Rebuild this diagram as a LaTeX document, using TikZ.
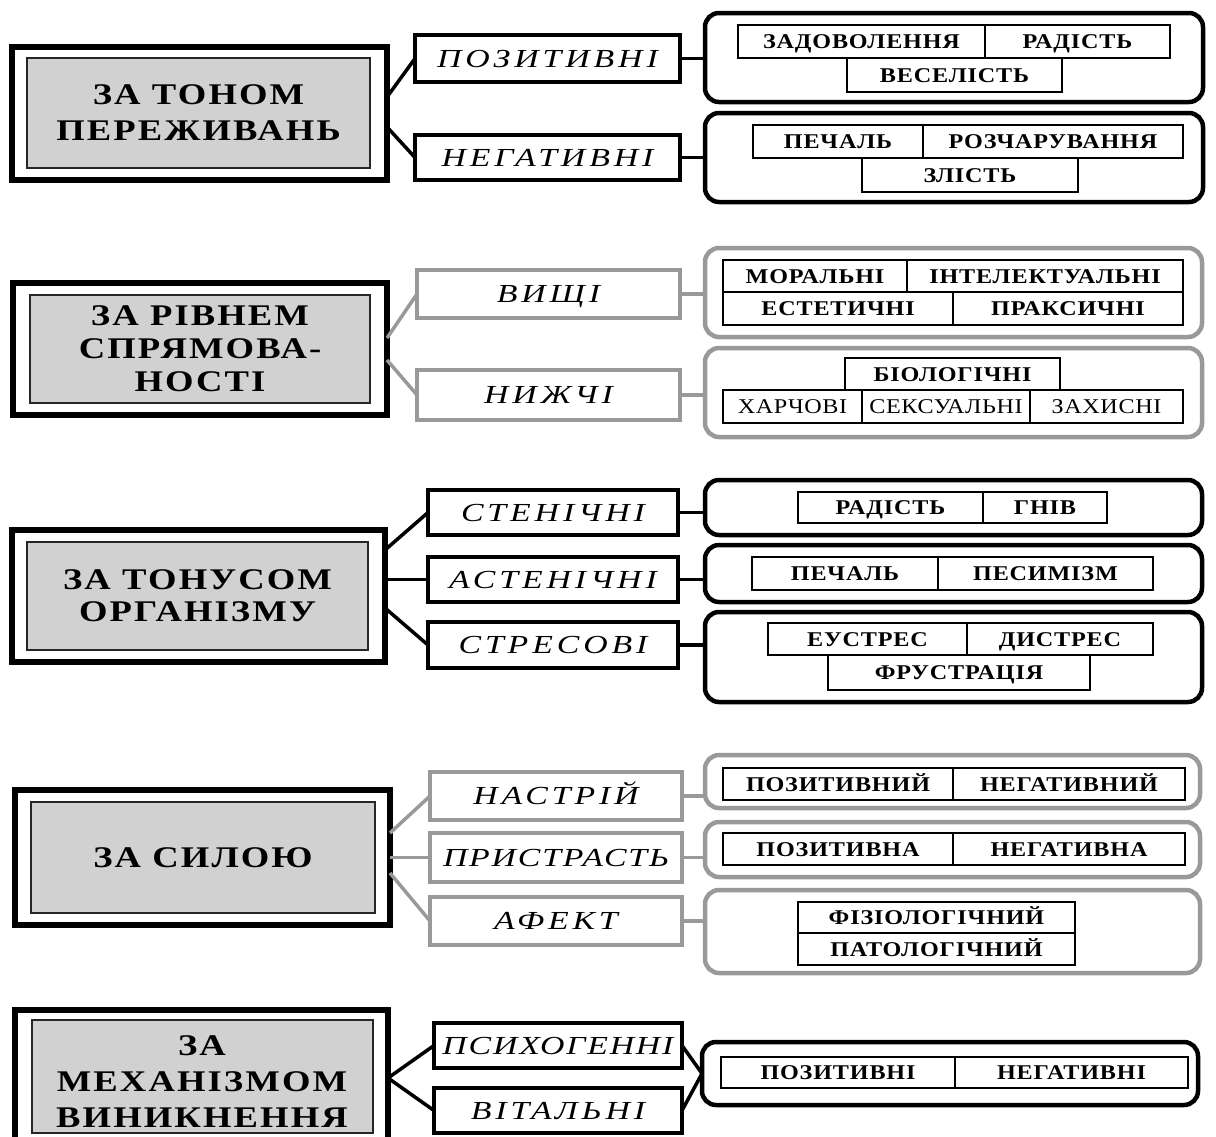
\documentclass[tikz,border=0pt]{standalone}
\usepackage{fontspec}
\setmainfont{Liberation Serif}
\newfontfamily\fmainfam[FakeStretch=1.22,LetterSpace=7]{Liberation Serif}
\newfontfamily\fcatfam[FakeStretch=1.3,LetterSpace=15]{Liberation Serif}
\newfontfamily\fcattightfam[FakeStretch=1.3,LetterSpace=7]{Liberation Serif}
\newfontfamily\fitemfam[FakeStretch=1.15,LetterSpace=4]{Liberation Serif}
\newfontfamily\fitemrfam[FakeStretch=1.15,LetterSpace=3]{Liberation Serif}
\newcommand\fmain{\fmainfam\bfseries\fontsize{30}{36}\selectfont}
\newcommand\fcat{\fcatfam\itshape\fontsize{26}{28}\selectfont}
\newcommand\fcattight{\fcattightfam\itshape\fontsize{26}{28}\selectfont}
\newcommand\fitem{\fitemfam\bfseries\fontsize{21}{24}\selectfont}
\newcommand\fitemr{\fitemrfam\fontsize{21}{24}\selectfont}
\definecolor{lgray}{gray}{0.6}
\definecolor{fgray}{gray}{0.82}
\tikzset{
  outerbox/.style={draw=black, line width=6pt, fill=white, inner sep=0pt, outer sep=0pt},
  innerbox/.style={draw=black!85, line width=1.6pt, fill=fgray, inner sep=0pt, outer sep=0pt, font=\fmain, align=center},
  catbox/.style={draw=black, line width=4pt, fill=white, inner sep=0pt, outer sep=0pt, font=\fcat, text height=17pt, text depth=0pt},
  catgray/.style={catbox, draw=lgray},
  container/.style={draw=black, line width=4.5pt, rounded corners=14pt, inner sep=0pt, outer sep=0pt},
  containergray/.style={container, draw=lgray},
  itembox/.style={draw=black, line width=1.5pt, fill=white, inner sep=0pt, outer sep=0pt, font=\fitem, text height=14pt, text depth=0pt},
  itemreg/.style={itembox, font=\fitemr},
  conn/.style={line width=3.5pt, draw=black},
  conngray/.style={line width=3.5pt, draw=lgray},
}
\newcommand\bx[7]{\node[#1, anchor=north west, minimum width={(#5)-(#3)}, minimum height={(#6)-(#4)}] (#2) at (#3,#4) {#7};}
\begin{document}
\begin{tikzpicture}[x=1pt,y=-1pt]
\useasboundingbox (0,0) rectangle (1216,1136);
% ---------- section 1 ----------
\bx{outerbox}{m1o}{12}{47}{387}{180}{}
\bx{innerbox}{m1i}{27}{58}{370}{168}{ЗА ТОНОМ\\ПЕРЕЖИВАНЬ}
\bx{catbox}{c11}{415}{35}{680}{82}{ПОЗИТИВНІ}
\bx{catbox}{c12}{415}{135}{680}{180}{НЕГАТИВНІ}
\bx{container}{r1}{705}{13}{1203}{102}{}
\bx{container}{r2}{705}{113}{1203}{202}{}
\bx{itembox}{i1}{738}{25}{985}{58}{ЗАДОВОЛЕННЯ}
\bx{itembox}{i2}{985}{25}{1170}{58}{РАДІСТЬ}
\bx{itembox}{i3}{847}{58}{1062}{92}{ВЕСЕЛІСТЬ}
\bx{itembox}{i4}{753}{125}{923}{158}{ПЕЧАЛЬ}
\bx{itembox}{i5}{923}{125}{1183}{158}{РОЗЧАРУВАННЯ}
\bx{itembox}{i6}{862}{158}{1078}{192}{ЗЛІСТЬ}
\draw[conn] ([yshift=16.5pt]m1o.east) -- (c11.west);
\draw[conn] ([yshift=-13.5pt]m1o.east) -- (c12.west);
\draw[conn] (c11.east) -- (c11.east -| r1.west);
\draw[conn] (c12.east) -- (c12.east -| r2.west);
% ---------- section 2 ----------
\bx{outerbox}{m2o}{13}{283}{387}{415}{}
\bx{innerbox}{m2i}{30}{295}{370}{403}{ЗА РІВНЕМ\\[-3pt]СПРЯМОВА-\\[-3pt]НОСТІ}
\bx{catgray}{c21}{417}{270}{680}{318}{ВИЩІ}
\bx{catgray}{c22}{417}{370}{680}{420}{НИЖЧІ}
\bx{containergray}{r3}{705}{248}{1202}{337}{}
\bx{containergray}{r4}{705}{348}{1202}{437}{}
\bx{itembox}{i7}{723}{260}{907}{292}{МОРАЛЬНІ}
\bx{itembox}{i8}{907}{260}{1183}{292}{ІНТЕЛЕКТУАЛЬНІ}
\bx{itembox}{i9}{723}{292}{953}{325}{ЕСТЕТИЧНІ}
\bx{itembox}{i10}{953}{292}{1183}{325}{ПРАКСИЧНІ}
\bx{itembox}{i11}{845}{358}{1060}{390}{БІОЛОГІЧНІ}
\bx{itemreg}{i12}{723}{390}{862}{423}{ХАРЧОВІ}
\bx{itemreg}{i13}{862}{390}{1030}{423}{СЕКСУАЛЬНІ}
\bx{itemreg}{i14}{1030}{390}{1183}{423}{ЗАХИСНІ}
\draw[conngray] ([yshift=11pt]m2o.east) -- (c21.west);
\draw[conngray] ([yshift=-11pt]m2o.east) -- (c22.west);
\draw[conngray] (c21.east) -- (c21.east -| r3.west);
\draw[conngray] (c22.east) -- (c22.east -| r4.west);
% ---------- section 3 ----------
\bx{outerbox}{m3o}{12}{530}{385}{662}{}
\bx{innerbox}{m3i}{27}{542}{368}{650}{ЗА ТОНУСОМ\\[-4pt]ОРГАНІЗМУ}
\bx{catbox}{c31}{428}{490}{678}{535}{СТЕНІЧНІ}
\bx{catbox}{c32}{428}{557}{678}{602}{АСТЕНІЧНІ}
\bx{catbox}{c33}{428}{622}{678}{668}{СТРЕСОВІ}
\bx{container}{r5}{705}{480}{1202}{535}{}
\bx{container}{r6}{705}{545}{1202}{602}{}
\bx{container}{r7}{705}{612}{1202}{702}{}
\bx{itembox}{i15}{798}{492}{983}{523}{РАДІСТЬ}
\bx{itembox}{i16}{983}{492}{1107}{523}{ГНІВ}
\bx{itembox}{i17}{752}{557}{938}{590}{ПЕЧАЛЬ}
\bx{itembox}{i18}{938}{557}{1153}{590}{ПЕСИМІЗМ}
\bx{itembox}{i19}{768}{623}{967}{655}{ЕУСТРЕС}
\bx{itembox}{i20}{967}{623}{1153}{655}{ДИСТРЕС}
\bx{itembox}{i21}{828}{655}{1090}{690}{ФРУСТРАЦІЯ}
\draw[conn] ([yshift=46pt]m3o.east) -- (c31.west);
\draw[conn] (m3o.east |- c32.west) -- (c32.west);
\draw[conn] ([yshift=-12pt]m3o.east) -- (c33.west);
\draw[conn] (c31.east) -- (c31.east -| r5.west);
\draw[conn] (c32.east) -- (c32.east -| r6.west);
\draw[conn] (c33.east) -- (c33.east -| r7.west);
% ---------- section 4 ----------
\bx{outerbox}{m4o}{15}{790}{390}{925}{}
\bx{innerbox}{m4i}{31}{802}{375}{913}{ЗА СИЛОЮ}
\bx{catgray}{c41}{430}{772}{682}{820}{НАСТРІЙ}
\bx{catgray}{c42}{430}{833}{682}{882}{\fcattight ПРИСТРАСТЬ}
\bx{catgray}{c43}{430}{897}{682}{945}{АФЕКТ}
\bx{containergray}{r8}{705}{755}{1200}{808}{}
\bx{containergray}{r9}{705}{822}{1200}{877}{}
\bx{containergray}{r10}{705}{890}{1200}{973}{}
\bx{itembox}{i22}{723}{768}{953}{800}{ПОЗИТИВНИЙ}
\bx{itembox}{i23}{953}{768}{1185}{800}{НЕГАТИВНИЙ}
\bx{itembox}{i24}{723}{833}{953}{865}{ПОЗИТИВНА}
\bx{itembox}{i25}{953}{833}{1185}{865}{НЕГАТИВНА}
\bx{itembox}{i26}{798}{902}{1075}{933}{ФІЗІОЛОГІЧНИЙ}
\bx{itembox}{i27}{798}{933}{1075}{965}{ПАТОЛОГІЧНИЙ}
\draw[conngray] ([yshift=24.5pt]m4o.east) -- (c41.west);
\draw[conngray] (m4o.east) -- (c42.west);
\draw[conngray] ([yshift=-15.5pt]m4o.east) -- (c43.west);
\draw[conngray] (c41.east) -- (c41.east -| r8.west);
\draw[conngray] (c42.east) -- (c42.east -| r9.west);
\draw[conngray] (c43.east) -- (c43.east -| r10.west);
% ---------- section 5 ----------
\bx{outerbox}{m5o}{15}{1010}{388}{1142}{}
\bx{innerbox}{m5i}{32}{1020}{373}{1133}{}
\node[font=\fmain, align=center, inner sep=0pt] (m5t) at (202,1082) {ЗА\\МЕХАНІЗМОМ\\ВИНИКНЕННЯ};
\bx{catbox}{c51}{434}{1023}{682}{1068}{\fcattight ПСИХОГЕННІ}
\bx{catbox}{c52}{434}{1088}{682}{1133}{ВІТАЛЬНІ}
\bx{container}{r11}{702}{1042}{1198}{1105}{}
\bx{itembox}{i28}{721}{1057}{955}{1088}{ПОЗИТИВНІ}
\bx{itembox}{i29}{955}{1057}{1188}{1088}{НЕГАТИВНІ}
\draw[conn] ([yshift=-2pt]m5o.east) -- (c51.west);
\draw[conn] ([yshift=-2pt]m5o.east) -- (c52.west);
\draw[conn] (c51.east) -- (r11.west);
\draw[conn] (c52.east) -- (r11.west);
\end{tikzpicture}
\end{document}
